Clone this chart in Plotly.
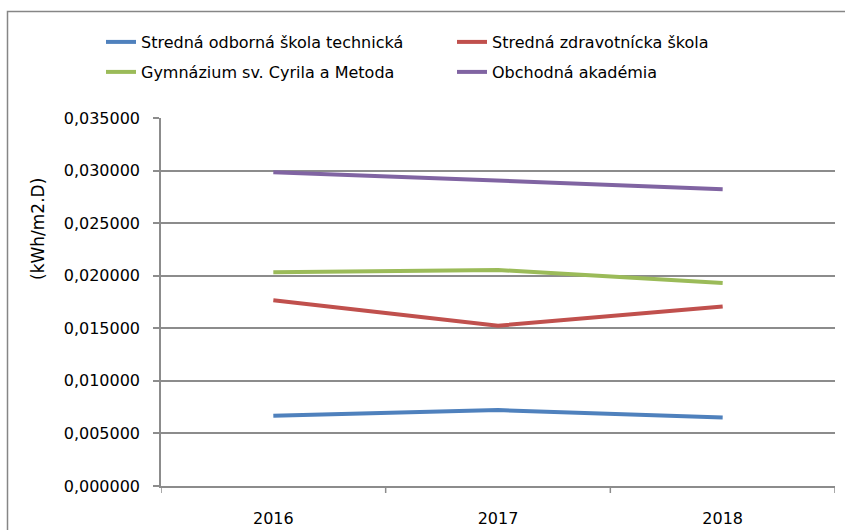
import plotly.graph_objects as go

years = ["2016", "2017", "2018"]
names = [
    "Stredná odborná škola technická",
    "Stredná zdravotnícka škola",
    "Gymnázium sv. Cyrila a Metoda",
    "Obchodná akadémia",
]
sos_technicka = [0.00667, 0.00722, 0.00652]
szs = [0.01766, 0.01525, 0.01708]
gymnazium = [0.02032, 0.02054, 0.01930]
obchodna = [0.02985, 0.02902, 0.02823]
y_ticks = [0, 0.005, 0.010, 0.015, 0.020, 0.025, 0.030, 0.035]
y_tick_labels = ["0,000000", "0,005000", "0,010000", "0,015000", "0,020000", "0,025000", "0,030000", "0,035000"]

colors = ["#4F81BD", "#C0504D", "#9BBB59", "#8064A2"]
series = [sos_technicka, szs, gymnazium, obchodna]
legend_rows = ["legend", "legend", "legend2", "legend2"]

FONT = "DejaVu Sans, sans-serif"

fig = go.Figure()
xs = list(range(len(years)))
for name, vals, col, lg in zip(names, series, colors, legend_rows):
    fig.add_trace(go.Scatter(x=xs, y=vals, name=name, mode="lines", legend=lg,
                             line=dict(color=col, width=4)))

L, R, T, B = 161, 10, 118, 44
W, H = 845, 530
pw = W - L - R
ph = H - T - B

leg_common = dict(orientation="h", xanchor="left", yanchor="top",
                  entrywidth=306, entrywidthmode="pixels",
                  font=dict(family=FONT, size=16, color="black"),
                  bgcolor="rgba(0,0,0,0)", traceorder="normal")

fig.update_layout(
    width=W, height=H,
    margin=dict(l=L, r=R, t=T, b=B, autoexpand=False),
    paper_bgcolor="white", plot_bgcolor="white",
    font=dict(family=FONT, size=15, color="black"),
    showlegend=True,
    legend=dict(x=(101 - L) / pw, y=(H - B - 25) / ph, **leg_common),
    legend2=dict(x=(101 - L) / pw, y=(H - B - 55) / ph, **leg_common),
    xaxis=dict(range=[-0.5, 2.5], tickmode="array", tickvals=xs, ticktext=years,
               showgrid=False, showline=True, linecolor="#8c8c8c", linewidth=1.5,
               ticks="", zeroline=False,
               tickfont=dict(family=FONT, size=16, color="black"), ticklabelstandoff=17),
    yaxis=dict(range=[0, 0.035], tickmode="array", tickvals=y_ticks, ticktext=y_tick_labels,
               showgrid=True, gridcolor="#8c8c8c", gridwidth=1.5,
               showline=True, linecolor="#8c8c8c", linewidth=1.5,
               ticks="outside", ticklen=6, tickcolor="#8c8c8c", tickwidth=1.5,
               zeroline=False, tickfont=dict(family=FONT, size=16, color="black"),
               ticklabelstandoff=10),
)

# x-axis boundary tick marks
for b in [-0.5, 0.5, 1.5, 2.5]:
    fig.add_shape(type="line", xref="x", yref="paper", x0=b, x1=b, y0=0, y1=-7 / ph,
                  line=dict(color="#8c8c8c", width=1.5), layer="above")

# outer chart border
fig.add_shape(type="rect", xref="paper", yref="paper",
              x0=(7.5 - L) / pw, x1=(W + 5 - L) / pw,
              y0=-(B + 5) / ph, y1=(H - B - 11.5) / ph,
              line=dict(color="#868686", width=1.5), fillcolor="rgba(0,0,0,0)", layer="below")

fig.add_annotation(text="(kWh/m2.D)", xref="paper", yref="paper",
                   x=(38 - L) / pw, y=(H - B - 229) / ph, textangle=-90,
                   showarrow=False, font=dict(family=FONT, size=17, color="black"),
                   xanchor="center", yanchor="middle")

fig.write_html("out.html", config={"displayModeBar": False},
               post_script="document.body.style.margin='0';")
